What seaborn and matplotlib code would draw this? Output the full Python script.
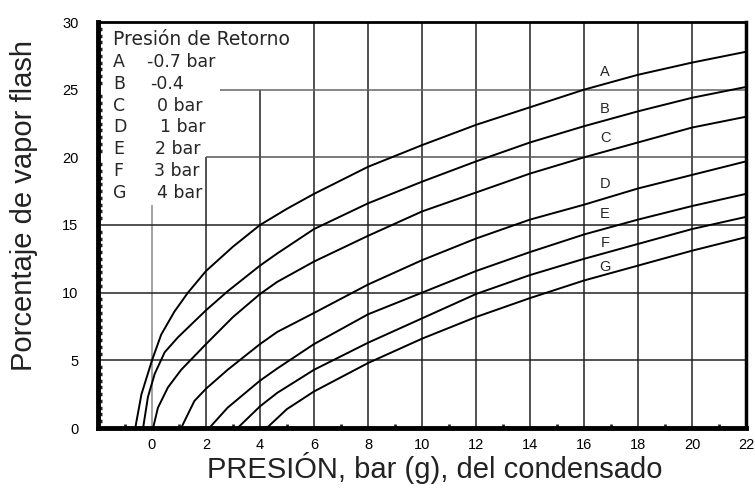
import numpy as np
import pandas as pd
import matplotlib
matplotlib.use('Agg')
import matplotlib.pyplot as plt
import seaborn as sns

# Curvas de vapor flash
curve_names = ['A', 'B', 'C', 'D', 'E', 'F', 'G']
back_pressure = ['-0.7 bar', '-0.4', '0 bar', '1 bar', '2 bar', '3 bar', '4 bar']

a_x = [-0.62, -0.39, 0, 0.34, 0.83, 1.33, 2, 3, 4, 5, 6, 8, 10, 12, 14, 16, 18, 20, 22]
a_y = [0, 2.5, 5.0, 6.9, 8.6, 10.0, 11.6, 13.4, 15.0, 16.2, 17.3, 19.3, 20.9, 22.4, 23.7, 25.0, 26.1, 27.0, 27.8]

b_x = [-0.33, -0.15, 0.1, 0.47, 0.96, 2, 2.8, 4, 4.64, 6, 8, 10, 12, 14, 16, 18, 20, 22]
b_y = [0, 2.3, 4.0, 5.6, 6.7, 8.7, 10.1, 12.0, 12.9, 14.7, 16.6, 18.2, 19.7, 21.1, 22.3, 23.4, 24.4, 25.2]

c_x = [0.04, 0.22, 0.59, 1.08, 2, 3, 4, 4.64, 6, 8, 10, 12, 14, 16, 18, 20, 22]
c_y = [0, 1.5, 3.0, 4.3, 6.2, 8.2, 9.9, 10.8, 12.3, 14.2, 16.0, 17.4, 18.8, 20.0, 21.1, 22.2, 23.0]

d_x = [1.08, 1.57, 2, 2.8, 4, 4.64, 6, 8, 10, 12, 14, 16, 18, 20, 22]
d_y = [0, 2.0, 2.9, 4.3, 6.2, 7.1, 8.5, 10.6, 12.4, 14.0, 15.4, 16.5, 17.7, 18.7, 19.7]

e_x = [2.12, 2.8, 4, 4.64, 6, 8, 10, 12, 14, 16, 18, 20, 22]
e_y = [0, 1.5, 3.5, 4.4, 6.2, 8.4, 10.0, 11.6, 13.0, 14.3, 15.4, 16.4, 17.3]

f_x = [3.17, 4, 4.64, 6, 8, 10, 12, 14, 16, 18, 20, 22]
f_y = [0, 1.6, 2.6, 4.3, 6.3, 8.1, 9.9, 11.3, 12.5, 13.6, 14.7, 15.6]

g_x = [4.25, 5, 6, 8, 10, 12, 14, 16, 18, 20, 22]
g_y = [0, 1.4, 2.7, 4.8, 6.6, 8.2, 9.6, 10.9, 12.0, 13.1, 14.1]

label_y = [26.3, 23.6, 21.4, 18.0, 15.8, 13.7, 11.9]

xs = [a_x, b_x, c_x, d_x, e_x, f_x, g_x]
ys = [a_y, b_y, c_y, d_y, e_y, f_y, g_y]

frames = []
for name, x, y in zip(curve_names, xs, ys):
    frames.append(pd.DataFrame({'presion': x, 'flash': y, 'curva': name}))
df = pd.concat(frames, ignore_index=True)

sns.set_style('white')
plt.rcParams['font.family'] = ['Liberation Sans', 'DejaVu Sans']

fig = plt.figure(figsize=(7.55, 4.93), dpi=100)
ax = fig.add_axes([98 / 755, 1 - 428 / 493, 648 / 755, 406 / 493])
ax.set_xlim(-2, 22)
ax.set_ylim(0, 30)

# rejilla (recortada por el cuadro de la leyenda)
gc = '#222222'
ax.vlines(0, 0, 16.5, color='#888888', lw=1.1, zorder=1)
ax.vlines(2, 0, 20, color=gc, lw=1.1, zorder=1)
ax.vlines(4, 0, 25, color=gc, lw=1.1, zorder=1)
ax.vlines(np.arange(6, 21, 2), 0, 30, color=gc, lw=1.1, zorder=1)
ax.hlines([5, 10, 15], -2, 22, color=gc, lw=1.1, zorder=1)
ax.hlines(20, 2, 22, color='#555555', lw=1.1, zorder=1)
ax.hlines(25, 2.5, 22, color='#666666', lw=1.1, zorder=1)

sns.lineplot(data=df, x='presion', y='flash', hue='curva',
             palette=['black'] * 7, estimator=None, sort=False,
             legend=False, lw=1.4, ax=ax, zorder=3)

for name, ly in zip(curve_names, label_y):
    ax.text(16.78, ly, name, fontsize=10.5, ha='center', va='center', zorder=4)

# leyenda
leg_font = ['DejaVu Sans']
ax.text(-1.44, 28.67, 'Presión de Retorno', fontsize=13.5, family=leg_font,
        va='center', zorder=4)
row_y = [27.05, 25.42, 23.8, 22.24, 20.62, 18.99, 17.37]
val_x = [-0.19, -0.07, 0.19, 0.30, 0.11, 0.07, 0.19]
for name, val, ry, vx in zip(curve_names, back_pressure, row_y, val_x):
    ax.text(-1.44, ry, name, fontsize=12.5, family=leg_font, va='center', zorder=4)
    ax.text(vx, ry, val, fontsize=12.5, family=leg_font, va='center', zorder=4)

ax.set_xticks(np.arange(0, 23, 2))
ax.set_yticks(np.arange(0, 31, 5))
ax.set_xticks(np.arange(-1, 22, 2), minor=True)
ax.set_yticks(np.arange(0, 30.1, 0.5), minor=True)
ax.tick_params(axis='both', which='major', direction='in', length=5, width=1.5,
               labelsize=10.5, colors='black')
ax.tick_params(axis='y', which='major', pad=14)
ax.tick_params(axis='x', which='major', pad=7)
ax.tick_params(axis='y', which='minor', direction='in', length=3, width=2.5, left=True)
ax.tick_params(axis='x', which='minor', direction='in', length=3, width=2, bottom=True)

for side, w in [('left', 3.5), ('bottom', 3.5), ('top', 2), ('right', 2.5)]:
    ax.spines[side].set_linewidth(w)
    ax.spines[side].set_color('black')

ax.set_xlabel('PRESIÓN, bar (g), del condensado', fontsize=21, color='#222222')
ax.set_ylabel('Porcentaje de vapor flash', fontsize=21, color='#222222')
ax.xaxis.set_label_coords(0.52, -0.058)
ax.yaxis.set_label_coords(-0.092, 0.549)

fig.savefig('out.png', dpi=100)
